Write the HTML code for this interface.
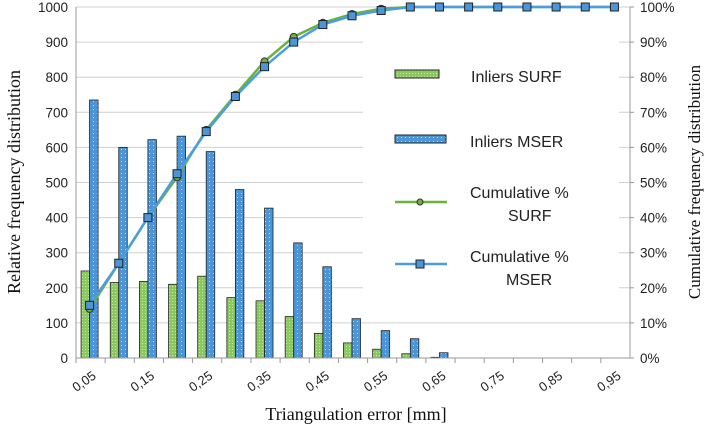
<!DOCTYPE html>
<html><head><meta charset="utf-8"><style>
body{margin:0;background:#fff;width:707px;height:430px;overflow:hidden}
svg{display:block}
</style></head><body>
<svg id="chart" width="707" height="430">
<defs>
<pattern id="pg" width="3" height="3" patternUnits="userSpaceOnUse"><rect width="3" height="3" fill="#8cc860"/><rect x="1" y="1" width="1" height="1" fill="#c8e6a8"/></pattern>
<pattern id="pb" width="4" height="4" patternUnits="userSpaceOnUse"><rect width="4" height="4" fill="#4a96d8"/><rect x="1" y="1" width="1" height="1" fill="#b8dcf6"/></pattern>
</defs>
<g id="grid"></g>
<g id="bars"></g>
<g id="lines"></g>
<g id="axes"></g>
<g font-family="Liberation Sans, sans-serif" font-size="16" fill="#222">
<rect x="363" y="30" width="256" height="270" fill="#fff"/>
<rect x="395" y="70" width="44" height="8" fill="url(#pg)" stroke="#222"/>
<text x="471" y="82">Inliers SURF</text>
<rect x="395" y="135" width="51" height="8" fill="url(#pb)" stroke="#222"/>
<text x="470" y="147">Inliers MSER</text>
<line x1="395" y1="202" x2="447" y2="202" stroke="#6ab23c" stroke-width="2.5"/>
<circle cx="420" cy="202" r="3" fill="#6ab23c" stroke="#333"/>
<text x="470" y="198">Cumulative  %</text>
<text x="508" y="221">SURF</text>
<line x1="395" y1="264" x2="447" y2="264" stroke="#4a9ee0" stroke-width="2.5"/>
<rect x="416" y="260" width="8" height="8" fill="#4a96d8" stroke="#222"/>
<text x="470" y="262">Cumulative  %</text>
<text x="506" y="285">MSER</text>
</g>
<text transform="translate(20,182) rotate(-90)" text-anchor="middle" font-family="Liberation Serif, serif" font-size="18" fill="#111">Relative frequency distribution</text>
<text transform="translate(700,182) rotate(-90)" text-anchor="middle" font-family="Liberation Serif, serif" font-size="17" fill="#111">Cumulative frequency distribution</text>
<text x="356" y="420" text-anchor="middle" font-family="Liberation Serif, serif" font-size="18" fill="#111">Triangulation error [mm]</text>
</svg>
<script>
const categories=["0,05","0,10","0,15","0,20","0,25","0,30","0,35","0,40","0,45","0,50","0,55","0,60","0,65","0,70","0,75","0,80","0,85","0,90","0,95"];
const inliersSurf=[248,215,218,210,233,172,163,118,70,43,25,12,2,0,0,0,0,0,0];
const inliersMser=[735,600,622,632,588,480,427,328,260,112,78,55,15,0,0,0,0,0,0];
const cumSurf=[14,27,40,51.5,65,75,84.5,91.5,95.5,98,99.5,100,100,100,100,100,100,100,100];
const cumMser=[15,27,40,52.5,64.5,74.5,83,90,95,97.5,99,100,100,100,100,100,100,100,100];
const leftTicks=[0,100,200,300,400,500,600,700,800,900,1000];
const rightTicks=[0,10,20,30,40,50,60,70,80,90,100];
const NS="http://www.w3.org/2000/svg";
const X0=76,X1=630,Y0=358,Y1=7;
const bw=(X1-X0)/categories.length;
const xc=i=>X0+bw*(i+0.5);
const yL=v=>Y0-(v/1000)*(Y0-Y1);
const yR=v=>Y0-(v/100)*(Y0-Y1);
function mk(tag,attrs,parent){const e=document.createElementNS(NS,tag);for(const k in attrs)e.setAttribute(k,attrs[k]);document.getElementById(parent).appendChild(e);return e;}
leftTicks.forEach((t,i)=>{
 if(t>0){const g=mk('line',{x1:X0,x2:X1,y1:yL(t),y2:yL(t),stroke:'#d0d0d0','stroke-width':1},'grid');
 
 }
 const l=mk('text',{x:X0-8,y:yL(t)+5,'text-anchor':'end','font-family':'Liberation Sans, sans-serif','font-size':13.5,fill:'#222'},'axes');l.textContent=t;
 
 
});
rightTicks.forEach(t=>{
 const l=mk('text',{x:X1+10,y:yR(t)+5,'font-family':'Liberation Sans, sans-serif','font-size':13.5,fill:'#222'},'axes');l.textContent=t+'%';
 
 
 const tk=mk('line',{x1:X1,x2:X1+4,y1:yR(t),y2:yR(t),stroke:'#999'},'axes');
 
 
});
let a=mk('line',{x1:X0,x2:X0,y1:Y1,y2:Y0,stroke:'#999'},'axes');


a=mk('line',{x1:X1,x2:X1,y1:Y1,y2:Y0,stroke:'#999'},'axes');


a=mk('line',{x1:X0,x2:X1,y1:Y0,y2:Y0,stroke:'#999'},'axes');


categories.forEach((c,i)=>{
 const tk=mk('line',{x1:X0+bw*i,x2:X0+bw*i,y1:Y0,y2:Y0+5,stroke:'#999'},'axes');
 
 
 if(i%2===0){const x=xc(i)-4,y=Y0+27;
 const l=mk('text',{x:x,y:y,'text-anchor':'middle','font-family':'Liberation Sans, sans-serif','font-size':13,fill:'#222',transform:`rotate(-35 ${x} ${y})`},'axes');l.textContent=c;
 
 }
 const w=8.5;
 if(inliersSurf[i]>0){const b=mk('rect',{x:xc(i)-w-1,y:yL(inliersSurf[i]),width:w,height:Y0-yL(inliersSurf[i]),fill:'url(#pg)',stroke:'#222','stroke-width':0.8},'bars');
 
 }
 if(inliersMser[i]>0){const b=mk('rect',{x:xc(i)-1,y:yL(inliersMser[i]),width:w,height:Y0-yL(inliersMser[i]),fill:'url(#pb)',stroke:'#222','stroke-width':0.8},'bars');
 
 }
});
function path(arr){return arr.map((v,i)=>(i?'L':'M')+(xc(i)-1)+' '+yR(v)).join(' ');}
let p=mk('path',{d:path(cumSurf),fill:'none',stroke:'#6ab23c','stroke-width':2.5},'lines');


p=mk('path',{d:path(cumMser),fill:'none',stroke:'#4a9ee0','stroke-width':2.5},'lines');


cumSurf.forEach((v,i)=>{const c=mk('circle',{cx:xc(i)-1,cy:yR(v),r:3.5,fill:'#6ab23c',stroke:'#333'},'lines');
 
 });
cumMser.forEach((v,i)=>{const c=mk('rect',{x:xc(i)-5,y:yR(v)-4,width:8,height:8,fill:'#4a96d8',stroke:'#222'},'lines');
 
 });
</script>
</body></html>
